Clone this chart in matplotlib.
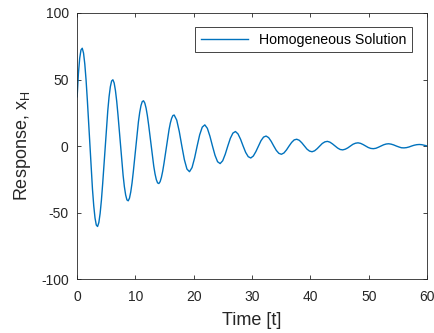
import numpy as np
import matplotlib
matplotlib.use('Agg')
import matplotlib.pyplot as plt

plt.rcParams['font.family'] = ['Liberation Sans', 'DejaVu Sans']
plt.rcParams['axes.unicode_minus'] = False

# response
# first part sampled every 0.21875 s from t = 0.025 (large swings),
# the rest every 0.4375 s from t = 16.65
t_start = 0.025
fine_step = 0.21875
coarse_start = 16.65
coarse_step = 0.4375

x_fine = [
    37.0, 54.5, 66.0, 72.2,
    73.5, 69.9, 61.6, 49.5, 34.4, 17.6, 0, -17.0, -32.3, -44.9, -54.1, -59.4,
    -60.5, -57.5, -50.7, -40.8, -28.3, -14.5, 0, 14.0, 26.6, 37.0, 44.5, 48.9,
    49.8, 47.4, 41.7, 33.6, 23.3, 11.9, 0, -11.6, -22.0, -30.6, -36.8, -40.5,
    -41.2, -39.2, -34.5, -27.8, -19.3, -9.8, 0, 9.6, 18.2, 25.2, 30.4, 33.4,
    34.0, 32.3, 28.5, 22.9, 15.9, 8.1, 0, -7.9, -15.1, -20.9, -25.2, -27.7,
    -28.2, -26.8, -23.6, -19.0, -13.2, -6.7, 0, 6.5, 12.4, 17.3, 20.8, 22.9,
]
x_coarse = [
    23.3, 19.5, 10.9, 0, -10.3, -17.3,
    -19.3, -16.2, -9.0, 0, 8.5, 14.2,
    15.9, 13.3, 7.4, 0, -7.0, -11.8,
    -13.2, -11.1, -6.2, 0, 5.8, 9.7,
    10.9, 9.1, 5.1, 0, -4.8, -8.0,
    -9.0, -7.5, -4.2, 0, 4.0, 6.7,
    7.5, 6.3, 3.5, 0, -3.3, -5.5,
    -6.2, -5.2, -2.9, 0, 2.7, 4.6,
    5.1, 4.3, 2.4, 0, -2.3, -3.8,
    -4.3, -3.6, -2.0, 0, 1.9, 3.1,
    3.5, 2.9, 1.6, 0, -1.5, -2.6,
    -2.9, -2.4, -1.4, 0, 1.3, 2.1,
    2.4, 2.0, 1.1, 0, -1.1, -1.8,
    -2.0, -1.7, -0.9, 0, 0.9, 1.5,
    1.7, 1.4, 0.8, 0, -0.7, -1.3,
    -1.4, -1.2, -0.7, 0, 0.6, 1.0,
    1.15, 1.0, 0.55, 0.1,
]

t = np.concatenate([t_start + fine_step * np.arange(len(x_fine)),
                    coarse_start + coarse_step * np.arange(len(x_coarse))])
x_h = x_fine + x_coarse

xticks = [0, 10, 20, 30, 40, 50, 60]
yticks = [-100, -50, 0, 50, 100]

fig = plt.figure(figsize=(4.35, 3.33), dpi=100)
ax = fig.add_axes([0.177, 0.162, 0.805, 0.799])

ax.plot(t, x_h, color='#0072BD', lw=1.0, label='Homogeneous Solution')

ax.set_xlim(0, 60)
ax.set_ylim(-100, 100)
ax.set_xticks(xticks)
ax.set_yticks(yticks)
ax.tick_params(direction='in', top=True, right=True, length=3, width=0.6,
               labelsize=10, colors='#262626')
ax.tick_params(axis='x', pad=8)
ax.tick_params(axis='y', pad=6)
for s in ax.spines.values():
    s.set_linewidth(0.6)
    s.set_color('#262626')

ax.set_xlabel('Time [t]', fontsize=13, color='#262626', labelpad=6)
ax.set_ylabel('Response, x$_{\\mathregular{H}}$', fontsize=13, color='#262626', labelpad=6)

leg = ax.legend(loc='upper right', bbox_to_anchor=(0.957, 0.947), borderaxespad=0,
                fancybox=False, edgecolor='#262626', fontsize=10.2, handlelength=3.3,
                framealpha=1)
leg.get_frame().set_linewidth(0.6)

fig.savefig('out.png', dpi=100)
